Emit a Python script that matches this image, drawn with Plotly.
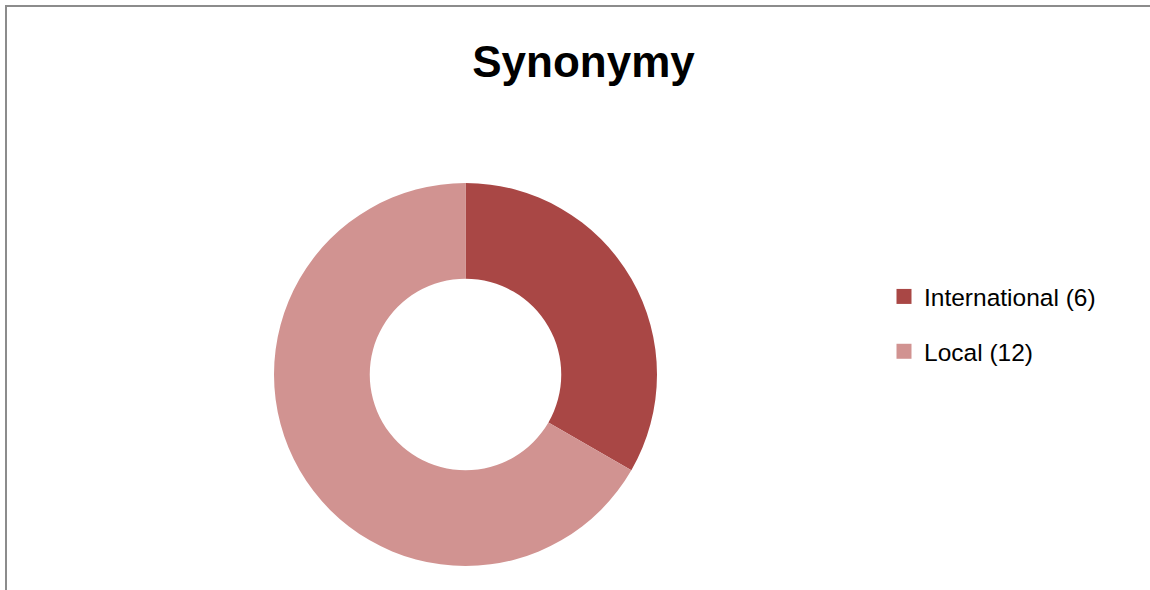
import plotly.graph_objects as go

# Data
categories = ["International", "Local"]
counts = [6, 12]
colors = ["#A94745", "#D19391"]
title_text = "Synonymy"

W, H = 1150, 590
legend_labels = [f"{c} ({n})" for c, n in zip(categories, counts)]

fig = go.Figure()

fig.add_trace(go.Pie(
    labels=legend_labels,
    values=counts,
    hole=0.5,
    sort=False,
    direction="clockwise",
    rotation=0,
    marker=dict(colors=colors, line=dict(width=0)),
    textinfo="none",
    hoverinfo="label+value+percent",
    showlegend=False,
    domain=dict(x=[274 / W, 657 / W], y=[1 - 566 / H, 1 - 183 / H]),
))

# Legend entries as square markers, one group per category for spacing
for lab, col in zip(legend_labels, colors):
    fig.add_trace(go.Scatter(
        x=[None], y=[None], mode="markers", name=lab, legendgroup=lab,
        marker=dict(symbol="square", size=15, color=col),
        hoverinfo="skip",
    ))

fig.update_layout(
    width=W, height=H,
    margin=dict(l=0, r=0, t=0, b=0),
    paper_bgcolor="white", plot_bgcolor="white",
    font=dict(family="Liberation Sans, Arial, sans-serif", color="black"),
    title=dict(text=f"<b>{title_text}</b>", x=583.5 / W, xanchor="center",
               y=1 - 62 / H, yanchor="middle",
               font=dict(size=44, family="Liberation Sans, Arial, sans-serif", color="black")),
    xaxis=dict(visible=False), yaxis=dict(visible=False),
    legend=dict(x=884 / W, xanchor="left", y=1 - 274 / H, yanchor="top",
                font=dict(size=24.5), tracegroupgap=20,
                bgcolor="rgba(0,0,0,0)"),
    shapes=[
        dict(type="line", xref="paper", yref="paper",
             x0=6 / W, x1=6 / W, y0=0, y1=1 - 6 / H,
             line=dict(color="#8C8C8C", width=2)),
        dict(type="line", xref="paper", yref="paper",
             x0=5 / W, x1=1, y0=1 - 6 / H, y1=1 - 6 / H,
             line=dict(color="#8C8C8C", width=2)),
    ],
)

fig.write_html("out.html")
